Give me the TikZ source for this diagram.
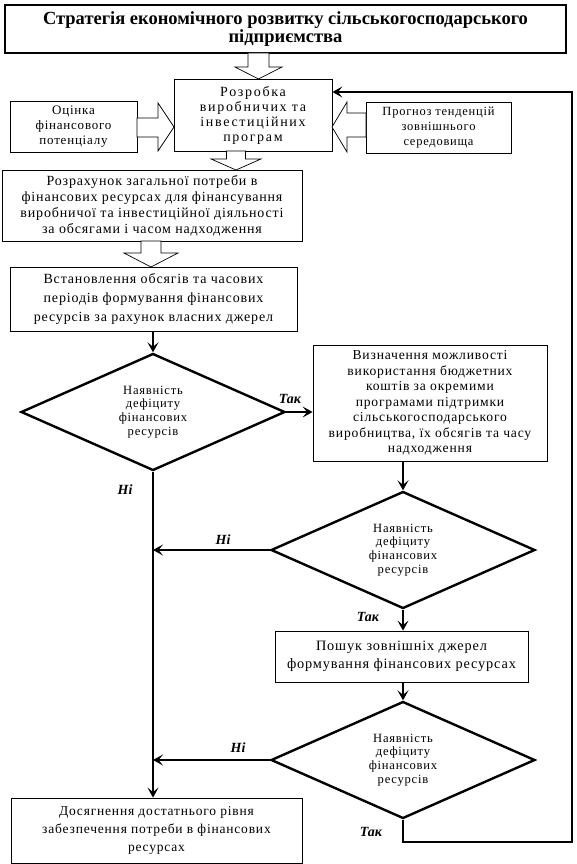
\documentclass[tikz,border=0pt]{standalone}
\usepackage{fontspec}
\setmainfont{Liberation Serif}
\newfontfamily\spaced[LetterSpace=6]{Liberation Serif}
\newfontfamily\wide[LetterSpace=12]{Liberation Serif}
\usepackage{tikz}
\usetikzlibrary{shapes,shapes.geometric,positioning,arrows.meta}

\tikzset{
  box/.style={draw,line width=0.8pt,align=center,inner sep=0pt,
    font=\spaced\fontsize{14}{16}\selectfont},
  titlebox/.style={draw,line width=2.6pt,align=center,inner sep=0pt,
    font=\bfseries\fontsize{18.5}{18}\selectfont},
  decision/.style={diamond,draw,line width=2.4pt,inner sep=0pt,align=center,
    aspect=2.25,minimum width=264,minimum height=117,
    font=\spaced\fontsize{12.6}{13.8}\selectfont},
  flow/.style={line width=2.6pt,-{Stealth[length=10pt,width=11pt,inset=4.5pt]}},
  hollow/.style={draw,line width=0.7pt,fill=white},
  answer/.style={font=\bfseries\itshape\fontsize{14}{15}\selectfont}
}

\begin{document}
\begin{tikzpicture}[x=1pt,y=-1pt]
      \useasboundingbox (0,0) rectangle (576,864);

      % Top part
      \node[titlebox,minimum width=561,minimum height=48] (title) at (285.5,29)
        {Стратегія економічного розвитку сільськогосподарського\\підприємства};
      \node[box,minimum width=158,minimum height=72,
        font=\wide\fontsize{14}{15}\selectfont] (rozrobka) at (253,115)
        {Розробка\\виробничих та\\інвестиційних\\програм};
      \node[box,minimum width=127,minimum height=51,
        font=\spaced\fontsize{13}{15}\selectfont] (otsinka) at (73.5,126.5)
        {Оцінка\\фінансового\\потенціалу};
      \node[box,minimum width=145,minimum height=51,
        font=\spaced\fontsize{12.5}{15}\selectfont] (prognoz) at (438.5,127.5)
        {Прогноз тенденцій\\зовнішнього\\середовища};
      \node[box,minimum width=300,minimum height=71] (rozrakh) at (152,205.5)
        {Розрахунок загальної потреби в\\фінансових ресурсах для фінансування\\виробничої та інвестиційної діяльності\\за обсягами і часом надходження};
      \node[box,minimum width=287,minimum height=64,
        font=\spaced\fontsize{14}{19}\selectfont] (vstan) at (153.5,299)
        {Встановлення обсягів та часових\\періодів формування фінансових\\ресурсів за рахунок власних джерел};

      % Hollow arrows
      \draw[hollow] (248,53) -- (269,53) -- (269,67) -- (282,67) -- (258.5,79)
        -- (235,67) -- (248,67) -- cycle;
      \draw[hollow] (226.5,151) -- (245.5,151) -- (245.5,159) -- (261,159) -- (236,170)
        -- (211,159) -- (226.5,159) -- cycle;
      \draw[hollow] (137,118) -- (158,118) -- (158,103) -- (174,127) -- (158,151)
        -- (158,137) -- (137,137) -- cycle;
      \draw[hollow] (366,113) -- (347,113) -- (347,102) -- (332,127) -- (347,152)
        -- (347,137) -- (366,137) -- cycle;
      \draw[hollow] (141,241) -- (161,241) -- (161,253) -- (178,253) -- (151,267)
        -- (124,253) -- (141,253) -- cycle;

      % Decisions and the right branch
      \node[decision] (dOne) at (153,412) {Наявність\\дефіциту\\фінансових\\ресурсів};
      \node[box,minimum width=234,minimum height=116,
        font=\spaced\fontsize{13.6}{15.5}\selectfont] (vyzn) at (430,403)
        {Визначення можливості\\використання бюджетних\\коштів за окремими\\програмами підтримки\\сільськогосподарського\\виробництва, їх обсягів та часу\\надходження};
      \node[decision] (dTwo) at (403,550) {Наявність\\дефіциту\\фінансових\\ресурсів};
      \node[box,minimum width=253,minimum height=51,
        font=\spaced\fontsize{14.3}{18}\selectfont] (poshuk) at (401.5,656.5)
        {Пошук зовнішніх джерел\\формування фінансових ресурсах};
      \node[decision] (dThree) at (403,760) {Наявність\\дефіциту\\фінансових\\ресурсів};
      \node[box,minimum width=291,minimum height=65,
        font=\spaced\fontsize{13.5}{18}\selectfont] (fin) at (156.5,830.5)
        {Досягнення достатнього рівня\\забезпечення потреби в фінансових\\ресурсах};

      % Answers
      \node[answer] (takOne) at (290,399) {Так};
      \node[answer] (niOne) at (125,490) {Ні};
      \node[answer] (niTwo) at (223,540) {Ні};
      \node[answer] (takTwo) at (368,617) {Так};
      \node[answer] (niThree) at (238,748) {Ні};
      \node[answer] (takThree) at (371,832) {Так};

      % Connectors
      \draw[flow] (vstan.south -| dOne.north) -- (dOne.north);
      \draw[flow] (dOne.east) -- (dOne.east -| vyzn.west);
      \draw[flow] (vyzn.south -| dTwo.north) -- (dTwo.north);
      \draw[flow] (dTwo.south) -- (dTwo.south |- poshuk.north);
      \draw[flow] (poshuk.south -| dThree.north) -- (dThree.north);
      \draw[flow] (dOne.south) -- (dOne.south |- fin.north);
      \draw[flow] (dTwo.west) -- (dTwo.west -| dOne.south);
      \draw[flow] (dThree.west) -- (dThree.west -| dOne.south);

      % Loop back
      \coordinate (loopBR) at (572,842);
      \coordinate (loopTR) at (572,92);
      \draw[flow] (dThree.south) |- (loopBR) -- (loopTR) -- (loopTR -| rozrobka.east);
\end{tikzpicture}
\end{document}
